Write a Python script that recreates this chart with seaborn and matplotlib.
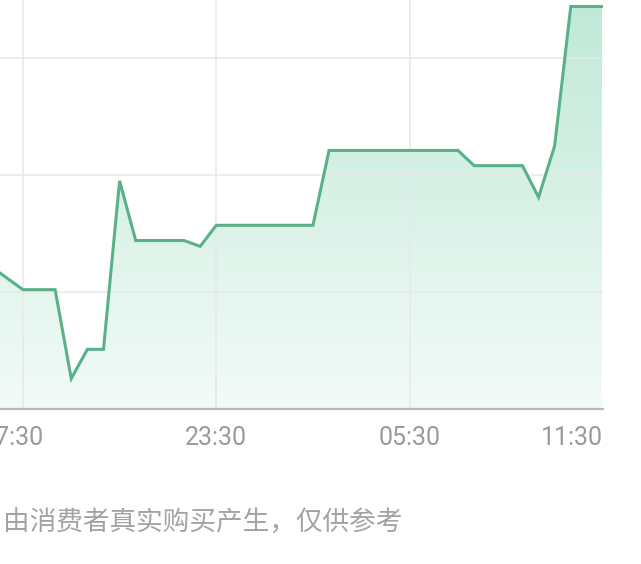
import numpy as np
import pandas as pd
import matplotlib
matplotlib.use("Agg")
import matplotlib.pyplot as plt
import matplotlib.transforms as mtransforms
from matplotlib.colors import LinearSegmentedColormap
import seaborn as sns

# breakpoints of the price curve (half-hour samples, day wraps after midnight)
times = ["16:30", "17:30", "18:30", "19:00", "19:30", "20:00", "20:30", "21:00",
         "22:30", "23:00", "23:30", "02:30", "03:00", "07:00", "07:30", "09:00",
         "09:30", "10:00", "10:30", "11:30"]
values = [1.22, 1.02, 1.02, 0.26, 0.51, 0.51, 1.95, 1.44,
          1.44, 1.39, 1.57, 1.57, 2.21, 2.21, 2.08, 2.08,
          1.81, 2.25, 3.44, 3.44]
tick_times = ["17:30", "23:30", "05:30", "11:30"]
footnote = "由消费者真实购买产生，仅供参考"


def to_hours(t):
    h, m = map(int, t.split(":"))
    x = h + m / 60
    return x + 24 if x < 12 else x


df = pd.DataFrame({"hour": [to_hours(t) for t in times], "value": values})

sns.set_style("white")
plt.rcParams["font.family"] = ["Roboto", "DejaVu Sans"]

fig = plt.figure(figsize=(6.41, 5.64), dpi=100)
ax = fig.add_axes([0, 1 - 409 / 564, 603 / 641, 409 / 564])

line_c = "#5ab189"
sns.lineplot(data=df, x="hour", y="value", ax=ax, color=line_c, linewidth=2.2,
             zorder=4, solid_joinstyle="miter")

x0, x1 = 16.789, 35.44
y0, y1 = 0, 409 / 117
ax.set_xlim(x0, x1)
ax.set_ylim(y0, y1)

# gradient fill under the curve
poly = ax.fill_between(df["hour"], df["value"], 0, color="none", lw=0)
cmap = LinearSegmentedColormap.from_list("g", ["#f3fbf8", "#bfe8d7"])
grad = np.linspace(0, 1, 256).reshape(-1, 1)
im = ax.imshow(grad, cmap=cmap, extent=[x0, x1, y0, y1], origin="lower",
               aspect="auto", zorder=2)
im.set_clip_path(poly.get_paths()[0], transform=ax.transData)

# grid
for yv in [1, 2, 3]:
    ax.axhline(yv, color="#e8e8e8", lw=1.1, zorder=3)
for t in tick_times[:-1]:
    ax.axvline(to_hours(t), color="#e8e8e8", lw=1.1, zorder=3)

sns.despine(ax=ax, left=True, right=True, top=True)
ax.spines["bottom"].set_color("#b8b8b8")
ax.spines["bottom"].set_linewidth(1.6)
ax.spines["bottom"].set_zorder(5)

ax.set_yticks([])
ax.set_xticks([to_hours(t) for t in tick_times])
ax.set_xticklabels(tick_times, color="#9a9a9a", fontsize=18)
ax.tick_params(axis="x", length=0, pad=12)
ax.set_xlabel("")
ax.set_ylabel("")
labels = ax.get_xticklabels()
labels[-1].set_horizontalalignment("right")
labels[0].set_transform(labels[0].get_transform() +
                        mtransforms.ScaledTranslation(-10 / 100, 0, fig.dpi_scale_trans))

fig.text(3 / 641, 1 - 523 / 564, footnote, fontsize=19.2, color="#a3a3a3",
         va="center", ha="left", family=["Noto Sans CJK SC", "DejaVu Sans"])

fig.savefig("out.png", dpi=100)
